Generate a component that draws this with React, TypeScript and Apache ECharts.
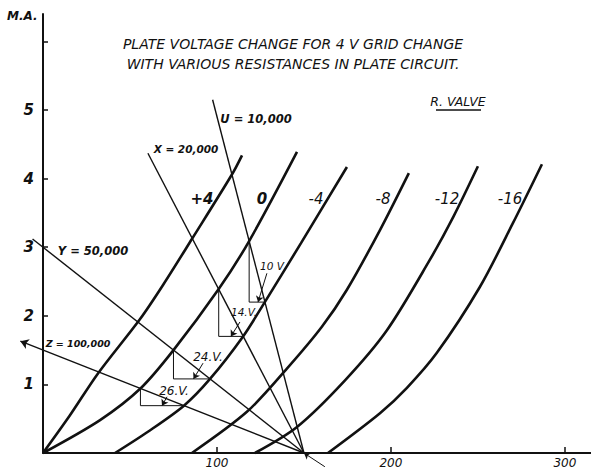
import React, { useEffect, useRef } from "react";
import * as echarts from "echarts";

// Grid-voltage characteristic curves (plate volts, milliamps)
const curveLabels = ["+4", "0", "-4", "-8", "-12", "-16"];
const curvePlus4 = [[0, 0], [15.5, 0.55], [31.6, 1.16], [55.7, 1.95], [69, 2.45], [85.6, 3.12], [108.6, 4.06], [114.4, 4.34]];
const curveZero = [[0, 0], [32.8, 0.48], [56, 0.94], [75, 1.5], [101, 2.39], [118.5, 3.09], [146, 4.39]];
const curveMinus4 = [[41.4, 0], [60.3, 0.31], [81, 0.69], [96, 1.08], [115, 1.7], [127.5, 2.2], [148.3, 3.06], [174.7, 4.17]];
const curveMinus8 = [[85.6, 0], [117.2, 0.6], [140.2, 1.23], [160.3, 1.84], [174.7, 2.38], [193.7, 3.25], [210.3, 4.08]];
const curveMinus12 = [[121.8, 0], [146, 0.38], [173.6, 1.06], [197.7, 1.79], [222, 2.8], [236, 3.45], [250, 4.18]];
const curveMinus16 = [[163.8, 0], [193.7, 0.58], [209.2, 0.95], [226.4, 1.46], [251.1, 2.42], [270.1, 3.35], [286.8, 4.21]];

// Load lines (resistance in plate circuit)
const loadLabels = ["U = 10,000", "X = 20,000", "Y = 50,000", "Z = 100,000"];
const loadU = [[150, 0], [97.5, 5.15]];
const loadX = [[150, 0], [60.3, 4.37]];
const loadY = [[150, 0], [-6, 3.12]];
const loadZ = [[150, 0], [-13, 1.63]];

// Plate-voltage change triangles
const triangleLabels = ["10 V", "14.V.", "24.V.", "26.V."];
const tri10 = [[118.5, 3.09], [118.5, 2.2], [127.5, 2.2]];
const tri14 = [[101, 2.39], [101, 1.7], [115, 1.7]];
const tri24 = [[75, 1.5], [75, 1.08], [96, 1.08]];
const tri26 = [[56, 0.94], [56, 0.69], [81, 0.69]];
const arrow10 = [[128.7, 2.62], [123.6, 2.2]];
const arrow14 = [[113.2, 1.91], [108, 1.7]];
const arrow24 = [[92, 1.31], [86.5, 1.08]];
const arrow26 = [[71.3, 0.82], [68.4, 0.69]];
const convergenceArrow = [[162, -0.2], [150, 0]];

// Axis ticks
const xTickLabels = [100, 200, 300];
const yTickLabels = [1, 2, 3, 4, 5];
const yTickMarks = [1, 2, 3, 4, 5, 6];

const titleLines = [
  "PLATE VOLTAGE CHANGE FOR 4 V GRID CHANGE",
  "WITH VARIOUS RESISTANCES IN PLATE CIRCUIT.",
];
const subtitle = "R. VALVE";
const yUnit = "M.A.";

export default function App() {
  const ref = useRef<HTMLDivElement>(null);
  useEffect(() => {
    document.body.style.margin = "0";
    const chart = echarts.init(ref.current!, null, { renderer: "svg" });
    const ink = "#111";
    const hand = '"DejaVu Sans", sans-serif';
    const curves = [curvePlus4, curveZero, curveMinus4, curveMinus8, curveMinus12, curveMinus16];
    const loads = [loadU, loadX, loadY, loadZ];
    const tris = [tri10, tri14, tri24, tri26];
    const arrows = [arrow10, arrow14, arrow24, arrow26];

    const series: any[] = [];
    curves.forEach((c, i) => {
      series.push({
        type: "line",
        name: curveLabels[i],
        data: c,
        smooth: 0.3,
        showSymbol: false,
        symbol: "none",
        clip: false,
        silent: true,
        lineStyle: { color: ink, width: 2.6 },
        z: 4,
      });
    });
    series.push({
      type: "lines",
      coordinateSystem: "cartesian2d",
      clip: false,
      silent: true,
      symbol: ["none", "none"],
      lineStyle: { color: ink, width: 1.4, opacity: 1 },
      data: loads.slice(0, 3).map((l) => ({ coords: l })),
      z: 3,
    });
    series.push({
      type: "lines",
      coordinateSystem: "cartesian2d",
      clip: false,
      silent: true,
      symbol: ["none", "arrow"],
      symbolSize: 8,
      lineStyle: { color: ink, width: 1.4, opacity: 1 },
      data: [{ coords: loadZ }],
      z: 3,
    });
    tris.forEach((t) => {
      series.push({
        type: "line",
        data: t,
        showSymbol: false,
        symbol: "none",
        clip: false,
        silent: true,
        lineStyle: { color: ink, width: 1 },
        z: 2,
      });
    });
    series.push({
      type: "lines",
      coordinateSystem: "cartesian2d",
      clip: false,
      silent: true,
      symbol: ["none", "arrow"],
      symbolSize: 6,
      lineStyle: { color: ink, width: 1, opacity: 1 },
      data: [...arrows, convergenceArrow].map((a) => ({ coords: a })),
      z: 3,
    });

    const txt = (text: string, x: number, y: number, size: number, opts: any = {}) => ({
      type: "text",
      x,
      y,
      silent: true,
      style: {
        text,
        fill: ink,
        fontFamily: hand,
        fontStyle: "italic",
        fontWeight: opts.weight || "normal",
        fontSize: size,
        align: opts.align || "center",
        verticalAlign: "middle",
      },
    });

    const graphic: any[] = [
      txt(yUnit, 7, 16, 12, { align: "left", weight: "bold" }),
      txt(titleLines[0], 293, 44, 14),
      txt(titleLines[1], 293, 64, 14),
      txt(subtitle, 458, 101, 12.5),
      { type: "line", silent: true, shape: { x1: 436, y1: 110, x2: 481, y2: 110 }, style: { stroke: ink, lineWidth: 1.3 } },
      txt(curveLabels[0], 202, 199, 15, { weight: "bold" }),
      txt(curveLabels[1], 262, 199, 15, { weight: "bold" }),
      txt(curveLabels[2], 316, 199, 15),
      txt(curveLabels[3], 383, 199, 15),
      txt(curveLabels[4], 447, 199, 15),
      txt(curveLabels[5], 510, 199, 15),
      txt(loadLabels[0], 256, 119, 11.5, { weight: "bold" }),
      txt(loadLabels[1], 186, 149, 10.5, { weight: "bold" }),
      txt(loadLabels[2], 93, 251, 11.5, { weight: "bold" }),
      txt(loadLabels[3], 78, 343, 9.5, { weight: "bold" }),
      txt(triangleLabels[0], 272, 266, 10.5),
      txt(triangleLabels[1], 244, 312, 10.5),
      txt(triangleLabels[2], 208, 357, 12),
      txt(triangleLabels[3], 174, 391, 12),
    ];

    chart.setOption({
      animation: false,
      backgroundColor: "#ffffff",
      grid: { left: 43, right: 0, top: 14, bottom: 19, containLabel: false },
      xAxis: {
        type: "value",
        min: 0,
        max: 315,
        splitLine: { show: false },
        axisLine: { show: true, lineStyle: { color: ink, width: 2 } },
        axisTick: { show: true, inside: true, length: 6, customValues: xTickLabels, lineStyle: { color: ink, width: 1.5 } },
        axisLabel: {
          show: true,
          customValues: xTickLabels,
          margin: 4,
          color: ink,
          fontFamily: hand,
          fontStyle: "italic",
          fontSize: 12,
        },
      },
      yAxis: {
        type: "value",
        min: 0,
        max: 6.4,
        splitLine: { show: false },
        axisLine: { show: true, lineStyle: { color: ink, width: 2 } },
        axisTick: { show: true, inside: true, length: 5, customValues: yTickMarks, lineStyle: { color: ink, width: 1.5 } },
        axisLabel: {
          show: true,
          customValues: yTickLabels,
          margin: 9,
          color: ink,
          fontFamily: hand,
          fontStyle: "italic",
          fontWeight: "bold",
          fontSize: 15,
        },
      },
      series,
      graphic,
    });
    return () => chart.dispose();
  }, []);
  return <div ref={ref} style={{ width: 591, height: 472 }} />;
}
